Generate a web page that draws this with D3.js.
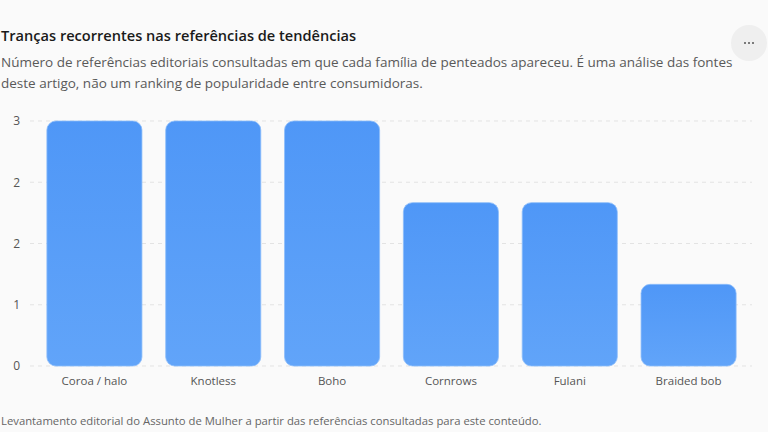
<!DOCTYPE html>
<html>
<head>
<meta charset="utf-8">
<script src="https://cdn.jsdelivr.net/npm/d3@7"></script>
<style>
  body { margin: 0; background: #fafafa; }
  svg { display: block; font-family: "Segoe UI", "Open Sans", "Noto Sans", sans-serif; }
</style>
</head>
<body>
<svg id="chart" width="768" height="432"></svg>
<script>
const categories = ["Coroa / halo", "Knotless", "Boho", "Cornrows", "Fulani", "Braided bob"];
const counts = [3, 3, 3, 2, 2, 1];
const yTicks = [0, 0.75, 1.5, 2.25, 3];

const title = "Tranças recorrentes nas referências de tendências";
const subtitleLines = [
  "Número de referências editoriais consultadas em que cada família de penteados apareceu. É uma análise das fontes",
  "deste artigo, não um ranking de popularidade entre consumidoras."
];
const footer = "Levantamento editorial do Assunto de Mulher a partir das referências consultadas para este conteúdo.";

const fontStack = '"Segoe UI", "Open Sans", "Noto Sans", sans-serif';

let svg = d3.select("#chart");

svg.append("rect")
  .attr("width", 768)
  .attr("height", 432)
  .attr("fill", "#fafafa");

// header
svg.append("text")
  .attr("x", 1)
  .attr("y", 41)
  .style("font-size", "14.6px")
  .style("font-weight", "600")
  .attr("fill", "#1a1a1a")
  .text(title);

svg.selectAll(".sub")
  .data(subtitleLines)
  .enter()
  .append("text")
  .attr("class", "sub")
  .attr("x", 1)
  .attr("y", (d, i) => 67 + i * 21)
  .style("font-size", "13.5px")
  .attr("fill", "#595959")
  .text(d => d);

// menu button
svg.append("circle")
  .attr("cx", 749)
  .attr("cy", 43)
  .attr("r", 18)
  .attr("fill", "#efefef");
svg.selectAll(".dot")
  .data([-4, 0, 4])
  .enter()
  .append("circle")
  .attr("class", "dot")
  .attr("cx", d => 749 + d)
  .attr("cy", 43)
  .attr("r", 1)
  .attr("fill", "#555");

let x = d3.scaleBand()
  .domain(categories)
  .range([35, 748])
  .paddingInner(0.2)
  .paddingOuter(0.1);

let y = d3.scaleLinear()
  .domain([0, 3])
  .range([366, 121]);

// grid
let grid = svg.append("g");
grid.selectAll("line")
  .data(yTicks)
  .enter()
  .append("line")
  .attr("x1", 30)
  .attr("x2", 752)
  .attr("y1", d => y(d))
  .attr("y2", d => y(d))
  .attr("stroke", "#e3e3e3")
  .attr("stroke-width", 1)
  .attr("stroke-dasharray", "4,4");

let yAxis = svg.append("g")
  .attr("transform", "translate(20,0)")
  .call(d3.axisLeft(y).tickValues(yTicks).tickFormat(d => Math.round(d)).tickSize(0).tickPadding(0))
  .attr("font-family", fontStack)
  .attr("font-size", 12);
yAxis.select(".domain").remove();
yAxis.selectAll("text").attr("fill", "#555");

// gradient
let defs = svg.append("defs");
let grad = defs.append("linearGradient")
  .attr("id", "barGrad")
  .attr("x1", 0).attr("y1", 0).attr("x2", 0).attr("y2", 1);
grad.append("stop").attr("offset", "0%").attr("stop-color", "#4f97f7");
grad.append("stop").attr("offset", "100%").attr("stop-color", "#61a4f9");

svg.append("g")
  .selectAll("rect")
  .data(counts)
  .enter()
  .append("rect")
  .attr("x", (d, i) => x(categories[i]))
  .attr("y", d => y(d))
  .attr("width", x.bandwidth())
  .attr("height", d => y(0) - y(d))
  .attr("rx", 9)
  .attr("fill", "url(#barGrad)")
  .attr("stroke", "#8bbcfa")
  .attr("stroke-width", 0.8);

let xAxis = svg.append("g")
  .attr("transform", "translate(0,366)")
  .call(d3.axisBottom(x).tickSize(0).tickPadding(11))
  .attr("font-family", fontStack)
  .attr("font-size", 11.5);
xAxis.select(".domain").remove();
xAxis.selectAll("text").attr("fill", "#555");

svg.append("text")
  .attr("x", 1)
  .attr("y", 425)
  .style("font-size", "11.3px")
  .attr("fill", "#666")
  .text(footer);
</script>
</body>
</html>
